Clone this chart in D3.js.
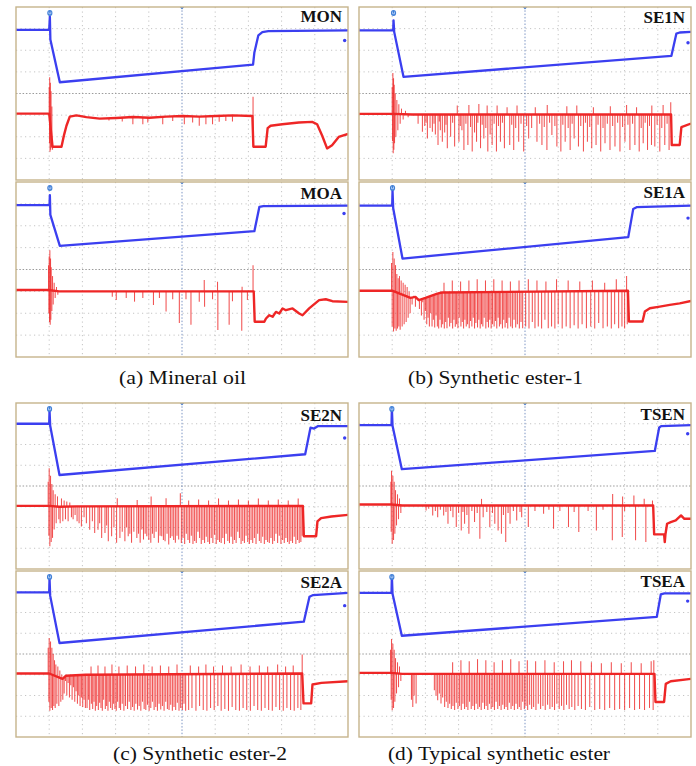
<!DOCTYPE html>
<html>
<head>
<meta charset="utf-8">
<script src="https://cdn.jsdelivr.net/npm/d3@7/dist/d3.min.js"></script>
<style>
  html, body { margin: 0; padding: 0; background: #fff; }
  svg { display: block; }
</style>
</head>
<body>
<svg id="chart" width="696" height="766"></svg>
<script>
// Oscilloscope captures: time in divisions (0-10), amplitude in divisions (-4..4, up positive).
// Blue = applied voltage, red = current. Spikes are [time, tip] pairs drawn from the current trace.

const gridTime = [1, 2, 3, 4, 5, 6, 7, 8, 9];
const gridAmp = [-3, -2, -1, 0, 1, 2, 3];

const panelNames = ["MON", "MOA", "SE1N", "SE1A", "SE2N", "SE2A", "TSEN", "TSEA"];
const captions = ["(a) Mineral oil", "(b) Synthetic ester-1", "(c) Synthetic ester-2", "(d) Typical synthetic ester"];

// ---- MON ----
const MON_voltage = [[0,2.94],[1.0,2.94],[1.02,3.55],[1.035,2.5],[1.32,0.52],[7.14,1.34],[7.18,1.9],[7.3,2.69],[7.42,2.84],[7.6,2.88],[10,2.92]];
const MON_current = [[0,-0.93],[1.0,-0.93],[1.1,-2.46],[1.37,-2.46],[1.45,-1.9],[1.52,-1.49],[1.62,-1.07],[1.82,-1.01],[2.12,-1.09],[2.52,-1.16],[3.02,-1.13],[3.52,-1.09],[4.02,-1.12],[4.52,-1.07],[5.02,-1.04],[5.52,-1.07],[6.02,-1.04],[6.52,-1.01],[7.12,-1.04],[7.15,-2.46],[7.52,-2.46],[7.58,-1.6],[7.67,-1.49],[8.02,-1.42],[8.52,-1.34],[8.92,-1.31],[9.07,-1.42],[9.22,-1.94],[9.37,-2.54],[9.52,-2.39],[9.72,-2.01],[10,-1.87]];
const MON_spikes = [[1.0,0.3],[1.01,-2.3],[1.015,0.75],[1.025,-2.69],[1.035,0.5],[1.045,-2.6],[1.055,0.1],[1.065,-2.5],[1.08,-0.6],[1.1,-2.6],
  [2.8,-1.25],[3.2,-1.3],[3.52,-1.42],[3.82,-1.42],[3.97,-1.34],[4.42,-1.42],[4.72,-1.27],[5.07,-1.42],[5.32,-1.34],[5.52,-1.49],[5.72,-1.42],[5.92,-1.42],[6.12,-1.31],[6.32,-1.27],[6.52,-1.3],[7.14,-0.15]];

// ---- MOA ----
const MOA_voltage = [[0,2.94],[1.01,2.94],[1.02,3.4],[1.035,2.5],[1.32,1.08],[7.18,1.75],[7.33,2.86],[7.45,2.9],[10,2.92]];
const MOA_current = [[0,-0.94],[0.97,-0.94],[1.3,-1.0],[7.16,-1.0],[7.19,-2.39],[7.48,-2.39],[7.53,-2.24],[7.63,-2.09],[7.73,-2.16],[7.83,-1.94],[7.93,-2.01],[8.03,-1.78],[8.13,-1.86],[8.33,-1.78],[8.53,-2.01],[8.63,-2.09],[8.83,-1.78],[9.13,-1.4],[9.33,-1.36],[9.53,-1.45],[10,-1.48]];
const MOA_spikes = [[0.98,0.2],[0.99,-2.0],[1.0,0.6],[1.01,-2.4],[1.02,0.88],[1.03,-2.53],[1.04,0.5],[1.05,-2.3],[1.06,0.1],[1.08,-1.9],[1.1,-0.3],[1.12,-1.6],[1.15,-0.6],[1.18,-1.3],[1.22,-0.8],[1.26,-1.15],
  [2.9,-1.25],[3.02,-1.39],[3.32,-1.3],[3.57,-1.47],[3.82,-1.3],[4.14,-1.62],[4.32,-1.3],[4.52,-1.92],[4.72,-1.36],[4.92,-2.45],[5.12,-1.36],[5.27,-2.53],[5.52,-1.47],[5.67,-0.48],[5.68,-1.7],[5.92,-1.36],[6.07,-0.56],[6.08,-2.76],[6.42,-2.53],[6.52,-1.45],[6.8,-2.8],[6.81,-0.79],[6.97,-1.39],[7.14,0.2]];

// ---- SE1N ----
const SE1N_voltage = [[0,2.92],[1.03,2.92],[1.04,3.38],[1.06,2.85],[1.34,0.77],[9.41,1.74],[9.56,2.77],[9.66,2.82],[10,2.85]];
const SE1N_current = [[0,-0.94],[1.04,-0.94],[1.6,-0.97],[9.4,-0.97],[9.42,-2.38],[9.66,-2.38],[9.71,-1.55],[10,-1.39]];
const SE1N_spikes = [[1.0,0.3],[1.01,-2.2],[1.02,0.95],[1.03,-2.76],[1.04,0.7],[1.05,-2.6],[1.06,0.4],[1.07,-2.3],[1.09,0.0],[1.11,-2.0],[1.14,-0.3],[1.17,-1.7],[1.2,-0.5],[1.24,-1.4],[1.28,-0.7],[1.33,-1.2],[1.4,-0.8],[1.48,-1.1],
  [1.78,-1.4],[1.91,-1.77],[1.98,-1.5],[2.06,-2.08],[2.14,-1.6],[2.21,-1.77],[2.3,-1.9],[2.38,-2.38],[2.45,-1.7],[2.51,-2.23],[2.58,-1.8],[2.66,-2.53],[2.76,-2.0],[2.88,-2.45],[2.96,-0.56],[3.01,-2.23],[3.1,-1.7],[3.16,-2.61],[3.28,-2.38],[3.31,-0.53],[3.41,-2.68],[3.48,-1.8],[3.54,-2.23],[3.61,-0.48],[3.66,-2.53],[3.76,-2.08],[3.86,-0.56],[3.88,-2.68],[3.95,-1.9],[4.01,-2.38],[4.14,-2.68],[4.16,-0.56],[4.26,-2.23],[4.38,-2.53],[4.46,-0.64],[4.54,-2.38],[4.66,-2.61],[4.76,-0.56],[4.81,-2.23],[4.96,-2.68],[5.11,-2.08],[5.2,-1.6],[5.31,-0.64],[5.36,-2.23],[5.51,-2.38],[5.66,-2.61],[5.67,-0.53],[5.81,-1.92],[5.96,-2.45],[6.08,-2.68],[6.21,-2.23],[6.26,-0.59],[6.36,-2.61],[6.48,-2.08],[6.56,-0.56],[6.61,-2.45],[6.76,-2.68],[6.88,-2.23],[7.01,-2.53],[7.06,-0.64],[7.14,-2.38],[7.28,-2.68],[7.41,-2.3],[7.56,-2.61],[7.57,-0.59],[7.71,-2.45],[7.86,-2.68],[8.01,-2.23],[8.06,-0.53],[8.16,-2.61],[8.31,-2.38],[8.36,-0.64],[8.44,-2.68],[8.56,-2.3],[8.69,-2.61],[8.81,-2.38],[8.82,-0.56],[8.91,-2.45],[9.06,-2.68],[9.16,-0.53],[9.21,-2.38],[9.34,-2.61],[9.39,-0.41],
  [2.02,-1.35],[2.26,-1.4],[2.42,-1.3],[2.62,-1.45],[2.82,-1.35],[3.05,-1.5],[3.22,-1.4],[3.36,-1.55],[3.58,-1.35],[3.71,-1.45],[3.82,-1.6],[4.07,-1.4],[4.2,-1.5],[4.32,-1.35],[4.6,-1.45],[4.72,-1.6],[4.88,-1.4],[5.05,-1.5],[5.44,-1.4],[5.58,-1.55],[5.74,-1.35],[5.9,-1.5],[6.14,-1.45],[6.3,-1.6],[6.42,-1.4],[6.68,-1.5],[6.82,-1.35],[6.95,-1.55],[7.2,-1.45],[7.35,-1.6],[7.48,-1.4],[7.64,-1.5],[7.79,-1.35],[7.94,-1.55],[8.1,-1.45],[8.24,-1.4],[8.5,-1.6],[8.62,-1.35],[8.75,-1.5],[8.98,-1.45],[9.12,-1.6],[9.28,-1.4]];

// ---- SE1A ----
const SE1A_voltage = [[0,2.92],[1.0,2.92],[1.01,3.6],[1.03,2.8],[1.31,0.5],[8.11,1.48],[8.26,2.77],[8.36,2.85],[10,2.92]];
const SE1A_current = [[0,-0.97],[1.0,-0.97],[1.55,-1.3],[1.7,-1.25],[1.8,-1.4],[2.0,-1.3],[2.36,-1.1],[2.5,-1.05],[8.1,-0.97],[8.13,-2.38],[8.54,-2.38],[8.61,-1.92],[8.76,-1.77],[9.06,-1.7],[9.36,-1.62],[9.66,-1.55],[10,-1.44]];
const SE1A_spikes = [[0.98,0.3],[1.0,-2.6],[1.02,0.8],[1.04,-2.83],[1.06,0.5],[1.08,-2.7],[1.1,0.2],[1.12,-2.8],[1.14,-0.2],[1.16,-2.7],[1.18,-0.4],[1.2,-2.6],[1.22,-0.3],[1.24,-2.75],[1.27,-0.5],[1.3,-2.6],[1.33,-0.6],[1.36,-2.5],[1.39,-0.7],[1.42,-2.4],[1.45,-0.8],[1.48,-2.2],[1.51,-1.0],[1.54,-2.0],
  [1.6,-1.6],[1.65,-1.2],[1.7,-1.7],[1.76,-1.3],[1.82,-1.8],[1.88,-2.1],[1.92,-1.5],[1.96,-2.3],[2.0,-1.9],[2.04,-2.5],[2.08,-2.2],[2.12,-2.6],[2.16,-2.0],[2.2,-2.6],[2.24,-2.3],[2.28,-2.65],[2.32,-2.1],[2.36,-2.6],
  [2.4,-2.7],[2.44,-2.3],[2.48,-2.65],[2.52,-2.5],[2.56,-0.6],[2.57,-2.7],[2.61,-2.4],[2.65,-2.68],[2.69,-2.2],[2.73,-2.6],[2.77,-2.45],[2.81,-0.5],[2.82,-2.7],[2.86,-2.3],[2.9,-2.62],[2.94,-2.5],[2.98,-2.68],[3.02,-2.2],[3.06,-0.55],[3.07,-2.6],[3.11,-2.4],[3.15,-2.7],[3.19,-2.3],[3.23,-2.6],[3.27,-2.5],[3.31,-0.5],[3.32,-2.68],[3.36,-2.35],[3.4,-2.6],[3.44,-2.2],[3.48,-2.7],[3.52,-2.45],[3.56,-0.45],[3.57,-2.65],[3.61,-2.3],[3.65,-2.7],[3.69,-2.5],[3.73,-2.6],[3.77,-2.2],[3.81,-0.5],[3.82,-2.7],[3.86,-2.4],[3.9,-2.65],[3.94,-2.3],[3.98,-2.7],[4.02,-2.5],[4.06,-0.45],[4.07,-2.6],[4.11,-2.35],[4.15,-2.7],[4.19,-2.2],[4.23,-2.6],[4.27,-2.5],[4.31,-0.5],[4.32,-2.7],[4.36,-2.3],[4.4,-2.65],[4.44,-2.45],[4.48,-2.7],[4.52,-2.2],[4.56,-0.55],[4.57,-2.6],[4.62,-2.68],[4.67,-2.3],[4.72,-2.65],[4.77,-2.5],[4.82,-0.5],[4.83,-2.7],[4.88,-2.4],[4.93,-2.68],
  [5.02,-2.6],[5.1,-0.45],[5.12,-2.7],[5.22,-2.4],[5.3,-2.68],[5.36,-0.5],[5.4,-2.6],[5.5,-2.7],[5.6,-2.3],[5.63,-0.55],[5.7,-2.68],[5.8,-2.6],[5.9,-2.7],[5.95,-0.45],[6.0,-2.5],[6.12,-2.7],[6.24,-2.6],[6.3,-0.5],[6.36,-2.68],[6.48,-2.55],[6.6,-2.7],[6.65,-0.55],[6.72,-2.5],[6.85,-2.68],[6.98,-2.6],[7.03,-0.5],[7.1,-2.7],[7.22,-2.45],[7.35,-2.68],[7.4,-0.6],[7.48,-2.6],[7.6,-2.7],[7.7,-2.5],[7.75,-0.45],[7.82,-2.68],[7.92,-2.6],[8.0,-2.7],[8.06,-0.3],[8.08,-2.5]];

// ---- SE2N ----
const SE2N_voltage = [[0,3.0],[1.0,3.0],[1.01,3.64],[1.03,2.9],[1.31,0.53],[8.71,1.53],[8.87,2.81],[8.98,2.77],[9.1,2.89],[10,2.89]];
const SE2N_current = [[0,-0.96],[1.0,-0.96],[1.3,-1.0],[1.8,-0.98],[8.64,-0.96],[8.67,-2.42],[9.04,-2.42],[9.08,-1.71],[9.19,-1.55],[9.5,-1.47],[10,-1.39]];
const SE2N_spikes = [[0.97,0.2],[0.99,-2.4],[1.0,0.85],[1.02,-2.9],[1.04,0.5],[1.06,-2.7],[1.08,0.1],[1.1,-2.5],[1.12,-0.2],[1.15,-2.1],[1.18,-0.4],[1.21,-1.8],[1.25,-0.5],[1.29,-1.6],
  [1.33,-1.8],[1.37,-0.6],[1.41,-1.7],[1.45,-0.7],[1.49,-1.6],[1.53,-0.75],[1.57,-1.7],[1.62,-0.8],[1.67,-1.5],[1.72,-1.6],[1.78,-1.4],[1.84,-1.7],
  [1.9,-1.79],[1.97,-1.95],[2.05,-1.5],[2.12,-1.79],[2.22,-2.11],[2.3,-1.7],[2.37,-2.26],[2.47,-2.11],[2.52,-1.8],[2.58,-2.5],[2.68,-2.26],[2.73,-1.9],[2.78,-2.66],[2.88,-2.42],[2.95,-2.0],[3.03,-2.74],[3.05,-0.59],[3.13,-2.5],[3.2,-2.2],[3.28,-2.66],[3.33,-2.0],[3.38,-2.42],[3.43,-2.3],[3.48,-2.74],[3.55,-2.2],[3.64,-2.5],[3.65,-0.67],[3.69,-2.3],[3.74,-2.74],[3.79,-2.1],[3.84,-2.58],[3.89,-2.3],[3.94,-2.42],[4.0,-2.6],[4.06,-2.74],[4.07,-0.51],[4.11,-2.3],[4.16,-2.5],[4.22,-2.2],[4.29,-2.74],[4.34,-2.4],[4.39,-2.42],[4.44,-2.6],[4.49,-2.66],[4.52,-0.59],[4.55,-2.3],[4.6,-2.82],[4.65,-2.5],[4.7,-2.42],[4.75,-2.6],[4.8,-2.74],[4.85,-2.4],[4.9,-2.58],[4.95,-0.35],
  [4.98,-2.75],[5.03,-2.5],[5.08,-2.8],[5.13,-2.3],[5.18,-2.6],[5.2,-0.7],[5.23,-2.75],[5.28,-2.4],[5.33,-2.8],[5.38,-2.65],[5.43,-2.75],[5.48,-2.2],[5.5,-0.65],[5.53,-2.5],[5.58,-2.8],[5.63,-2.6],[5.68,-2.75],[5.73,-2.45],[5.78,-2.7],[5.8,-0.7],[5.83,-2.8],[5.88,-2.5],[5.93,-2.75],[5.98,-2.35],[6.03,-2.8],[6.08,-2.6],[6.1,-0.6],[6.13,-2.7],[6.18,-2.75],[6.23,-2.5],[6.28,-2.8],[6.33,-2.3],[6.38,-2.65],[6.4,-0.7],[6.43,-2.75],[6.48,-2.45],[6.53,-2.8],[6.58,-2.6],[6.63,-2.75],[6.68,-2.2],[6.7,-0.65],[6.73,-2.5],[6.78,-2.8],[6.83,-2.65],[6.88,-2.75],[6.93,-2.4],[6.98,-2.7],[7.0,-0.7],[7.03,-2.8],[7.08,-2.6],[7.13,-2.75],[7.18,-2.5],[7.23,-2.8],[7.28,-2.3],[7.3,-0.6],[7.33,-2.65],[7.38,-2.75],[7.43,-2.45],[7.48,-2.8],[7.53,-2.6],[7.58,-2.7],[7.6,-0.7],[7.63,-2.75],[7.68,-2.5],[7.73,-2.8],[7.78,-2.65],[7.83,-2.3],[7.88,-2.75],[7.9,-0.65],[7.93,-2.4],[7.98,-2.8],[8.03,-2.6],[8.08,-2.75],[8.13,-2.5],[8.18,-2.7],[8.2,-0.7],[8.23,-2.8],[8.28,-2.65],[8.33,-2.75],[8.38,-2.45],[8.43,-2.8],[8.48,-2.6],[8.5,-0.6],[8.53,-2.75],[8.58,-2.7],[8.62,-2.4]];

// ---- SE2A ----
const SE2A_voltage = [[0,2.97],[1.0,2.97],[1.01,3.64],[1.03,2.8],[1.31,0.53],[8.67,1.56],[8.84,2.76],[8.95,2.84],[10,2.95]];
const SE2A_current = [[0,-0.94],[1.0,-0.94],[1.4,-1.2],[1.5,-1.05],[2.1,-1.0],[8.62,-0.94],[8.66,-2.38],[8.89,-2.38],[8.93,-1.47],[9.2,-1.39],[10,-1.31]];
const SE2A_spikes = [[0.97,0.3],[0.99,-2.3],[1.0,0.77],[1.02,-2.74],[1.04,0.6],[1.06,-2.6],[1.08,0.3],[1.1,-2.7],[1.12,0.0],[1.14,-2.5],[1.16,-0.3],[1.18,-2.6],[1.2,-0.5],[1.23,-2.4],[1.26,-0.6],[1.29,-2.5],[1.32,-0.8],[1.35,-2.3],[1.38,-1.0],[1.41,-2.2],
  [1.45,-1.9],[1.49,-1.3],[1.53,-2.0],[1.57,-1.4],[1.61,-2.1],[1.65,-1.5],[1.69,-2.2],[1.73,-1.6],[1.77,-2.3],[1.81,-1.8],[1.85,-2.4],[1.89,-2.0],[1.93,-2.5],[1.97,-2.1],[2.01,-2.55],[2.05,-2.2],[2.09,-2.6],
  [2.14,-2.6],[2.18,-2.2],[2.22,-2.7],[2.26,-0.6],[2.27,-2.4],[2.31,-2.65],[2.35,-2.3],[2.39,-2.74],[2.43,-2.5],[2.47,-0.55],[2.48,-2.7],[2.52,-2.35],[2.56,-2.6],[2.6,-2.74],[2.64,-2.2],[2.68,-0.6],[2.69,-2.65],[2.73,-2.5],[2.77,-2.74],[2.81,-2.3],[2.85,-2.6],[2.89,-0.5],[2.9,-2.7],[2.94,-2.4],[2.98,-2.65],[3.02,-2.74],[3.06,-2.3],[3.1,-0.6],[3.11,-2.6],[3.15,-2.7],[3.2,-2.4],[3.25,-2.74],[3.3,-2.5],[3.35,-0.55],[3.36,-2.65],[3.41,-2.3],[3.46,-2.7],[3.51,-2.55],[3.56,-2.74],[3.6,-0.6],[3.61,-2.4],[3.66,-2.68],[3.71,-2.5],[3.76,-2.74],[3.81,-2.3],[3.85,-0.5],[3.86,-2.65],[3.91,-2.7],[3.96,-2.45],[4.01,-2.74],[4.06,-2.6],[4.1,-0.6],[4.11,-2.3],[4.16,-2.7],[4.21,-2.55],[4.26,-2.74],[4.31,-2.4],[4.35,-0.55],[4.36,-2.68],[4.41,-2.5],[4.46,-2.74],[4.51,-2.3],[4.56,-2.65],[4.6,-0.6],[4.61,-2.7],[4.66,-2.45],[4.71,-2.74],[4.76,-2.55],[4.81,-2.7],[4.85,-0.5],[4.86,-2.35],[4.91,-2.74],[4.96,-2.6],[5.01,-2.7],[5.06,-2.4],[5.11,-2.74],
  [5.2,-2.7],[5.25,-0.55],[5.3,-2.6],[5.42,-2.74],[5.5,-0.6],[5.53,-2.5],[5.64,-2.7],[5.72,-0.5],[5.75,-2.74],[5.86,-2.6],[5.95,-0.6],[5.97,-2.7],[6.08,-2.5],[6.18,-2.74],[6.22,-0.55],[6.29,-2.65],[6.4,-2.74],[6.48,-0.6],[6.51,-2.55],[6.62,-2.7],[6.73,-2.74],[6.78,-0.5],[6.84,-2.6],[6.95,-2.7],[7.05,-0.6],[7.06,-2.74],[7.17,-2.5],[7.28,-2.7],[7.33,-0.55],[7.39,-2.74],[7.5,-2.6],[7.58,-0.6],[7.61,-2.7],[7.72,-2.74],[7.83,-2.55],[7.88,-0.5],[7.94,-2.7],[8.05,-2.74],[8.12,-0.6],[8.16,-2.6],[8.27,-2.7],[8.35,-0.55],[8.38,-2.74],[8.49,-2.6],[8.58,-2.7],[8.62,-0.03]];

// ---- TSEN ----
const TSEN_voltage = [[0,2.93],[0.98,2.93],[0.99,3.76],[1.01,2.9],[1.29,0.81],[8.91,1.69],[9.04,2.81],[9.1,2.89],[10,2.93]];
const TSEN_current = [[0,-0.89],[0.98,-0.89],[1.3,-0.94],[8.86,-0.94],[8.89,-2.33],[9.19,-2.33],[9.21,-2.7],[9.23,-2.33],[9.28,-1.82],[9.39,-1.74],[9.54,-1.66],[9.7,-1.42],[9.8,-1.58],[10,-1.58]];
const TSEN_spikes = [[0.96,0.2],[0.97,-2.2],[0.98,0.73],[1.0,-2.78],[1.02,0.5],[1.04,-2.6],[1.06,0.2],[1.08,-2.3],[1.1,-0.2],[1.13,-1.9],[1.16,-0.4],[1.19,-1.6],[1.22,-0.6],[1.26,-1.3],
  [2.02,-1.18],[2.22,-1.42],[2.37,-1.5],[2.55,-1.42],[2.68,-1.82],[2.83,-1.5],[2.93,-1.98],[3.08,-2.14],[3.18,-1.82],[3.31,-2.3],[3.48,-1.74],[3.64,-2.54],[3.69,-0.62],[3.74,-1.5],[3.94,-1.98],[4.09,-1.82],[4.19,-2.14],[4.29,-2.3],[4.42,-2.7],[4.55,-1.82],[4.75,-1.66],[4.9,-1.5],[5.1,-1.98],[5.56,-1.34],[5.86,-2.06],[6.31,-1.98],[6.62,-2.22],[7.15,-2.14],[7.63,-2.62],[7.64,-0.38],[7.93,-2.46],[7.94,-0.51],[8.28,-0.46],[8.33,-2.62],[8.59,-0.62],[8.64,-2.7],[8.84,-0.7],
  [2.1,-1.1],[2.3,-1.2],[2.45,-1.15],[2.62,-1.25],[2.76,-1.2],[3.0,-1.3],[3.13,-1.25],[3.25,-1.4],[3.4,-1.2],[3.56,-1.3],[3.85,-1.25],[4.02,-1.3],[4.35,-1.4],[4.49,-1.3],[4.65,-1.2],[4.85,-1.25],[5.3,-1.2],[5.72,-1.15],[6.05,-1.2],[6.48,-1.25],[6.9,-1.2],[7.35,-1.15],[8.0,-1.2]];

// ---- TSEA ----
const TSEA_voltage = [[0,2.95],[0.98,2.95],[0.99,3.75],[1.01,2.9],[1.29,0.88],[8.97,1.79],[9.09,2.87],[9.2,2.92],[10,2.92]];
const TSEA_current = [[0,-0.91],[0.98,-0.91],[1.3,-0.96],[8.9,-0.96],[8.93,-2.31],[9.19,-2.31],[9.24,-1.44],[9.39,-1.31],[10,-1.2]];
const TSEA_spikes = [[0.95,0.2],[0.97,-2.2],[0.98,0.72],[1.0,-2.71],[1.02,0.5],[1.04,-2.6],[1.06,0.2],[1.08,-2.3],[1.1,-0.2],[1.13,-1.9],[1.16,-0.4],[1.19,-1.6],[1.22,-0.6],[1.26,-1.3],
  [1.58,-2.2],[1.62,-2.55],[1.66,-2.0],[1.72,-2.39],
  [2.27,-1.75],[2.32,-2.0],[2.37,-2.23],[2.42,-1.9],[2.47,-2.39],[2.52,-2.1],[2.58,-2.55],[2.63,-2.3],[2.68,-2.6],[2.73,-2.4],[2.78,-2.65],[2.82,-0.4],[2.83,-2.5],[2.88,-2.7],[2.93,-2.35],[2.98,-2.65],[3.03,-2.5],[3.07,-0.3],[3.08,-2.7],[3.13,-2.4],[3.18,-2.65],[3.23,-2.55],[3.28,-2.7],[3.32,-0.35],[3.33,-2.3],[3.38,-2.65],[3.43,-2.5],[3.48,-2.7],[3.53,-2.4],[3.57,-0.25],[3.58,-2.65],[3.63,-2.55],[3.68,-2.7],[3.73,-2.35],[3.78,-2.65],[3.82,-0.3],[3.83,-2.5],[3.88,-2.7],[3.93,-2.4],[3.98,-2.65],[4.03,-2.55],[4.07,-0.4],[4.08,-2.7],[4.13,-2.3],[4.18,-2.65],[4.23,-2.5],[4.28,-2.7],[4.32,-0.3],[4.33,-2.45],[4.38,-2.65],[4.43,-2.55],[4.48,-2.7],[4.53,-2.35],[4.57,-0.25],[4.58,-2.65],[4.63,-2.5],[4.68,-2.7],[4.73,-2.4],[4.78,-2.65],[4.82,-0.35],[4.83,-2.55],[4.88,-2.7],[4.93,-2.3],[4.98,-2.65],[5.03,-2.5],[5.07,-0.3],[5.08,-2.7],[5.14,-2.45],[5.2,-2.65],[5.26,-2.55],[5.32,-0.35],[5.33,-2.7],[5.4,-2.4],[5.47,-2.65],[5.54,-2.5],[5.6,-0.3],[5.61,-2.7],[5.68,-2.45],[5.75,-2.65],[5.82,-2.55],[5.88,-0.4],[5.89,-2.7],[5.96,-2.4],[6.03,-2.65],[6.1,-2.5],[6.16,-0.35],[6.17,-2.7],[6.25,-2.45],[6.33,-2.65],[6.4,-0.3],[6.41,-2.55],[6.5,-2.7],[6.6,-2.5],[6.68,-0.35],[6.7,-2.65],[6.82,-2.7],[6.95,-2.55],[7.0,-0.4],[7.1,-2.7],[7.25,-2.65],[7.3,-0.45],[7.4,-2.7],[7.55,-2.6],[7.6,-0.4],[7.7,-2.7],[7.85,-2.65],[7.9,-0.45],[8.0,-2.7],[8.15,-2.6],[8.2,-0.4],[8.3,-2.7],[8.45,-2.65],[8.5,-0.45],[8.6,-2.7],[8.75,-2.6],[8.8,-0.35],[8.86,-2.7],[8.88,-0.3]];

// Trigger time and channel-marker dot (time, amplitude) for each capture
const triggerTime = [1.02, 1.02, 1.04, 1.01, 1.01, 1.01, 0.99, 0.99];
const markerDot = [[9.9,2.45],[9.88,2.56],[9.91,2.35],[9.91,2.35],[9.9,2.31],[9.9,2.33],[9.9,2.52],[9.9,2.55]];

// ---- layout ----
const cols = [{ x: 16, w: 332 }, { x: 359, w: 332 }];
const rows = [{ top: 7, h: 173 }, { top: 182, h: 175 }, { top: 403, h: 166 }, { top: 571, h: 166 }];
const panelPlace = [[0,0],[0,1],[1,0],[1,1],[0,2],[0,3],[1,2],[1,3]]; // [col,row]
const labelDy = [15, 17, 16, 16, 18, 17, 17, 16];

const voltages = [MON_voltage, MOA_voltage, SE1N_voltage, SE1A_voltage, SE2N_voltage, SE2A_voltage, TSEN_voltage, TSEA_voltage];
const currents = [MON_current, MOA_current, SE1N_current, SE1A_current, SE2N_current, SE2A_current, TSEN_current, TSEA_current];
const spikes = [MON_spikes, MOA_spikes, SE1N_spikes, SE1A_spikes, SE2N_spikes, SE2A_spikes, TSEN_spikes, TSEA_spikes];

const BLUE = "#3b3ff0";
const RED = "#ee2626";

const svg = d3.select("#chart");
svg.append("rect").attr("width", 696).attr("height", 766).attr("fill", "#fff");
const defs = svg.append("defs");

panelNames.forEach((name, i) => {
  const c = cols[panelPlace[i][0]], r = rows[panelPlace[i][1]];
  const x = d3.scaleLinear().domain([0, 10]).range([c.x, c.x + c.w]);
  const y = d3.scaleLinear().domain([4, -4]).range([r.top, r.top + r.h]);

  defs.append("clipPath").attr("id", "clip" + i)
    .append("rect").attr("x", c.x).attr("y", r.top).attr("width", c.w).attr("height", r.h);

  const g = svg.append("g");
  const inner = g.append("g").attr("clip-path", `url(#clip${i})`);

  // graticule
  inner.selectAll(".vg").data(gridTime.filter(d => d !== 5)).join("line")
    .attr("x1", d => x(d)).attr("x2", d => x(d)).attr("y1", r.top).attr("y2", r.top + r.h)
    .attr("stroke", "#c4c4c4").attr("stroke-width", 1).attr("stroke-dasharray", "1.2,3.3");
  inner.selectAll(".hg").data(gridAmp.filter(d => d !== 0)).join("line")
    .attr("x1", c.x).attr("x2", c.x + c.w).attr("y1", d => y(d)).attr("y2", d => y(d))
    .attr("stroke", "#c4c4c4").attr("stroke-width", 1).attr("stroke-dasharray", "1.2,3.3");
  inner.append("line")
    .attr("x1", c.x).attr("x2", c.x + c.w).attr("y1", y(0)).attr("y2", y(0))
    .attr("stroke", "#9a9a9a").attr("stroke-width", 1).attr("stroke-dasharray", "1.5,1.8");
  inner.append("line")
    .attr("x1", x(5)).attr("x2", x(5)).attr("y1", r.top).attr("y2", r.top + r.h)
    .attr("stroke", "#7d95c4").attr("stroke-width", 1).attr("stroke-dasharray", "1.5,1.8");

  // current trace: spikes hang from the running trace level
  const cur = currents[i];
  const level = d3.scaleLinear().domain(cur.map(d => d[0])).range(cur.map(d => d[1]));
  inner.append("g").selectAll("line").data(spikes[i]).join("line")
    .attr("x1", d => x(d[0])).attr("x2", d => x(d[0]))
    .attr("y1", d => y(level(d[0]))).attr("y2", d => y(d[1]))
    .attr("stroke", RED).attr("stroke-width", 1.05).attr("stroke-opacity", 0.8);
  const line = d3.line().x(d => x(d[0])).y(d => y(d[1]));
  inner.append("path").attr("d", line(cur))
    .attr("fill", "none").attr("stroke", RED).attr("stroke-width", 2.4).attr("stroke-linejoin", "round");

  // voltage trace
  inner.append("path").attr("d", line(voltages[i]))
    .attr("fill", "none").attr("stroke", BLUE).attr("stroke-width", 2.3).attr("stroke-linejoin", "round");

  // channel markers
  inner.append("circle").attr("cx", x(markerDot[i][0])).attr("cy", y(markerDot[i][1])).attr("r", 1.7).attr("fill", BLUE);
  const tx = x(triggerTime[i]);
  inner.append("ellipse").attr("cx", tx).attr("cy", r.top + 6).attr("rx", 2.6).attr("ry", 3).attr("fill", "#3f7fd6");
  inner.append("path").attr("d", `M${tx - 1},${r.top + 4.6}v2.2h2v-2.2`).attr("fill", "none").attr("stroke", "#cfe0ff").attr("stroke-width", 0.7);
  inner.append("path").attr("d", `M${x(5) - 2.2},${r.top}h4.4l-2.2,2.6z`).attr("fill", "#4a7fd0");

  // frame
  g.append("rect").attr("x", c.x).attr("y", r.top).attr("width", c.w).attr("height", r.h)
    .attr("fill", "none").attr("stroke", "#c6b48c").attr("stroke-width", 1.4);

  // label
  g.append("text").attr("x", c.x + c.w - 6).attr("y", r.top + labelDy[i])
    .attr("text-anchor", "end").attr("font-family", "'Liberation Serif', 'Times New Roman', serif")
    .attr("font-weight", "bold").attr("font-size", 17).attr("fill", "#111").text(name);
});

// sub-figure captions
const captionPos = [[119, 384, 127], [408, 384, 175], [113, 760, 174], [388, 760, 222]];
captions.forEach((t, i) => {
  svg.append("text").attr("x", captionPos[i][0]).attr("y", captionPos[i][1])
    .attr("font-family", "'Liberation Serif', 'Times New Roman', serif").attr("font-size", 19)
    .attr("textLength", captionPos[i][2]).attr("lengthAdjust", "spacingAndGlyphs")
    .attr("fill", "#111").text(t);
});
</script>
</body>
</html>
